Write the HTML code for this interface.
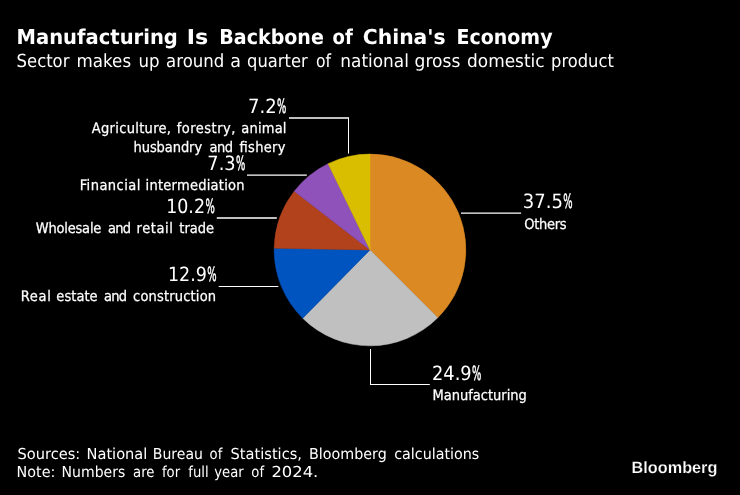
<!DOCTYPE html>
<html>
<head>
<meta charset="utf-8">
<title>Manufacturing Is Backbone of China's Economy</title>
<style>
html,body{margin:0;padding:0;background:#000;}
body{width:740px;height:495px;overflow:hidden;position:relative;}
svg{position:absolute;left:0;top:0;display:block;}
text{fill:#fff;white-space:pre;text-rendering:geometricPrecision;}
.t{font-family:"DejaVu Sans","Liberation Sans",sans-serif;font-weight:bold;font-size:20.5px;}
.s{font-family:"DejaVu Sans","Liberation Sans",sans-serif;font-size:18px;}
.f{font-family:"DejaVu Sans","Liberation Sans",sans-serif;font-size:15px;}
.v{font-family:"DejaVu Sans Condensed","DejaVu Sans","Liberation Sans",sans-serif;font-size:19.6px;}
.l{font-family:"DejaVu Sans Condensed","DejaVu Sans","Liberation Sans",sans-serif;font-size:14.5px;stroke:#fff;stroke-width:.25px;}
.b{font-family:"Liberation Sans",sans-serif;font-weight:bold;font-size:16.5px;stroke:#000;stroke-width:.22px;}
.p{stroke:#fff;stroke-width:.5px;}
.ln{stroke:#fff;stroke-width:1;fill:none;}
</style>
</head>
<body>
<svg width="740" height="495" viewBox="0 0 740 495">
<rect width="740" height="495" fill="#000"/>
<g id="pie" stroke-width="0.5" stroke-linejoin="round">
<path d="M370,249.95 L370.00,154.10 A95.85,95.85 0 0 1 437.78,317.73 Z" fill="#DB8923" stroke="#DB8923"/>
<path d="M370,249.95 L437.78,317.73 A95.85,95.85 0 0 1 302.65,318.15 Z" fill="#C0C0C0" stroke="#C0C0C0"/>
<path d="M370,249.95 L302.65,318.15 A95.85,95.85 0 0 1 274.17,248.14 Z" fill="#0054BF" stroke="#0054BF"/>
<path d="M370,249.95 L274.17,248.14 A95.85,95.85 0 0 1 294.26,191.20 Z" fill="#B2421C" stroke="#B2421C"/>
<path d="M370,249.95 L294.26,191.20 A95.85,95.85 0 0 1 328.10,163.74 Z" fill="#8F52BA" stroke="#8F52BA"/>
<path d="M370,249.95 L328.10,163.74 A95.85,95.85 0 0 1 370.00,154.10 Z" fill="#D9BE00" stroke="#D9BE00"/>
</g>
<g class="ln">
<path d="M289,118 H348.5" stroke-width="1.4"/>
<path d="M348.5,117.3 V153.6"/>
<path d="M247,175.05 H306.8" stroke-width="1.2"/>
<path d="M216.8,218 H276.8" stroke-width="1.4"/>
<path d="M218.7,286.5 H278.3"/>
<path d="M461,213.1 H521.1" stroke-width="1.4"/>
<path d="M370.5,349 V385 M370,384.5 H429.8"/>
</g>
<text class="t" y="43.7"><tspan x="16.55" textLength="161.25" lengthAdjust="spacingAndGlyphs">Manufacturing</tspan> <tspan x="186.72" textLength="21.50" lengthAdjust="spacingAndGlyphs">Is</tspan> <tspan x="219.37" textLength="104.47" lengthAdjust="spacingAndGlyphs">Backbone</tspan> <tspan x="332.53" textLength="20.24" lengthAdjust="spacingAndGlyphs">of</tspan> <tspan x="362.76" textLength="82.94" lengthAdjust="spacingAndGlyphs">China's</tspan> <tspan x="456.57" textLength="95.96" lengthAdjust="spacingAndGlyphs">Economy</tspan></text>
<text class="s" y="66.6"><tspan x="16.59" textLength="52.87" lengthAdjust="spacingAndGlyphs">Sector</tspan> <tspan x="76.57" textLength="54.53" lengthAdjust="spacingAndGlyphs">makes</tspan> <tspan x="138.58" textLength="21.07" lengthAdjust="spacingAndGlyphs">up</tspan> <tspan x="166.08" textLength="58.23" lengthAdjust="spacingAndGlyphs">around</tspan> <tspan x="230.28" textLength="10.72" lengthAdjust="spacingAndGlyphs">a</tspan> <tspan x="247.09" textLength="60.61" lengthAdjust="spacingAndGlyphs">quarter</tspan> <tspan x="315.88" textLength="15.04" lengthAdjust="spacingAndGlyphs">of</tspan> <tspan x="340.31" textLength="68.63" lengthAdjust="spacingAndGlyphs">national</tspan> <tspan x="414.55" textLength="45.81" lengthAdjust="spacingAndGlyphs">gross</tspan> <tspan x="467.06" textLength="77.53" lengthAdjust="spacingAndGlyphs">domestic</tspan> <tspan x="551.09" textLength="62.71" lengthAdjust="spacingAndGlyphs">product</tspan></text>
<text class="l" y="133.3"><tspan x="91.80" textLength="79.19" lengthAdjust="spacing">Agriculture,</tspan> <tspan x="176.80" textLength="58.62" lengthAdjust="spacing">forestry,</tspan> <tspan x="241.30" textLength="45.14" lengthAdjust="spacing">animal</tspan></text>
<text class="l" y="152"><tspan x="133.51" textLength="68.61" lengthAdjust="spacing">husbandry</tspan> <tspan x="209.60" textLength="23.47" lengthAdjust="spacing">and</tspan> <tspan x="239.50" textLength="46.01" lengthAdjust="spacing">fishery</tspan></text>
<text class="l" y="190.3"><tspan x="79.74" textLength="60.52" lengthAdjust="spacing">Financial</tspan> <tspan x="145.57" textLength="99.01" lengthAdjust="spacing">intermediation</tspan></text>
<text class="l" y="232.6"><tspan x="35.70" textLength="65.63" lengthAdjust="spacing">Wholesale</tspan> <tspan x="108.00" textLength="22.97" lengthAdjust="spacing">and</tspan> <tspan x="136.51" textLength="36.37" lengthAdjust="spacing">retail</tspan> <tspan x="179.30" textLength="34.63" lengthAdjust="spacing">trade</tspan></text>
<text class="l" y="301.3"><tspan x="20.63" textLength="30.15" lengthAdjust="spacing">Real</tspan> <tspan x="56.30" textLength="41.33" lengthAdjust="spacing">estate</tspan> <tspan x="104.00" textLength="22.97" lengthAdjust="spacing">and</tspan> <tspan x="133.10" textLength="82.98" lengthAdjust="spacing">construction</tspan></text>
<text class="l" y="228.6"><tspan x="524.20" textLength="42.40" lengthAdjust="spacing">Others</tspan></text>
<text class="l" y="399.7"><tspan x="432.50" textLength="94.38" lengthAdjust="spacing">Manufacturing</tspan></text>
<text class="v" y="113.0"><tspan x="247.98" textLength="28.66" lengthAdjust="spacingAndGlyphs">7.2</tspan><tspan class="p" x="277.00" textLength="9.32" lengthAdjust="spacingAndGlyphs">%</tspan></text>
<text class="v" y="169.9"><tspan x="207.39" textLength="28.23" lengthAdjust="spacingAndGlyphs">7.3</tspan><tspan class="p" x="236.00" textLength="9.32" lengthAdjust="spacingAndGlyphs">%</tspan></text>
<text class="v" y="212.7"><tspan x="166.21" textLength="38.79" lengthAdjust="spacingAndGlyphs">10.2</tspan><tspan class="p" x="205.40" textLength="9.32" lengthAdjust="spacingAndGlyphs">%</tspan></text>
<text class="v" y="281.4"><tspan x="167.91" textLength="38.89" lengthAdjust="spacingAndGlyphs">12.9</tspan><tspan class="p" x="207.20" textLength="9.32" lengthAdjust="spacingAndGlyphs">%</tspan></text>
<text class="v" y="208.1"><tspan x="522.88" textLength="40.06" lengthAdjust="spacingAndGlyphs">37.5</tspan><tspan class="p" x="563.30" textLength="9.32" lengthAdjust="spacingAndGlyphs">%</tspan></text>
<text class="v" y="379.5"><tspan x="431.99" textLength="39.64" lengthAdjust="spacingAndGlyphs">24.9</tspan><tspan class="p" x="472.00" textLength="9.32" lengthAdjust="spacingAndGlyphs">%</tspan></text>
<text class="f" y="459.25"><tspan x="17.50" textLength="62.78" lengthAdjust="spacingAndGlyphs">Sources:</tspan> <tspan x="86.53" textLength="60.86" lengthAdjust="spacingAndGlyphs">National</tspan> <tspan x="152.81" textLength="50.16" lengthAdjust="spacingAndGlyphs">Bureau</tspan> <tspan x="209.57" textLength="12.72" lengthAdjust="spacingAndGlyphs">of</tspan> <tspan x="230.50" textLength="71.50" lengthAdjust="spacingAndGlyphs">Statistics,</tspan> <tspan x="309.05" textLength="77.70" lengthAdjust="spacingAndGlyphs">Bloomberg</tspan> <tspan x="394.25" textLength="85.07" lengthAdjust="spacingAndGlyphs">calculations</tspan></text>
<text class="f" y="476.75"><tspan x="16.55" textLength="38.71" lengthAdjust="spacingAndGlyphs">Note:</tspan> <tspan x="61.56" textLength="63.76" lengthAdjust="spacingAndGlyphs">Numbers</tspan> <tspan x="133.00" textLength="21.45" lengthAdjust="spacingAndGlyphs">are</tspan> <tspan x="161.93" textLength="18.15" lengthAdjust="spacingAndGlyphs">for</tspan> <tspan x="188.34" textLength="20.35" lengthAdjust="spacingAndGlyphs">full</tspan> <tspan x="214.28" textLength="29.45" lengthAdjust="spacingAndGlyphs">year</tspan> <tspan x="251.32" textLength="12.72" lengthAdjust="spacingAndGlyphs">of</tspan> <tspan x="271.41" textLength="46.93" lengthAdjust="spacingAndGlyphs">2024.</tspan></text>
<text class="b" y="473"><tspan x="631.62" textLength="85.75" lengthAdjust="spacingAndGlyphs">Bloomberg</tspan></text>
</svg>
</body>
</html>
